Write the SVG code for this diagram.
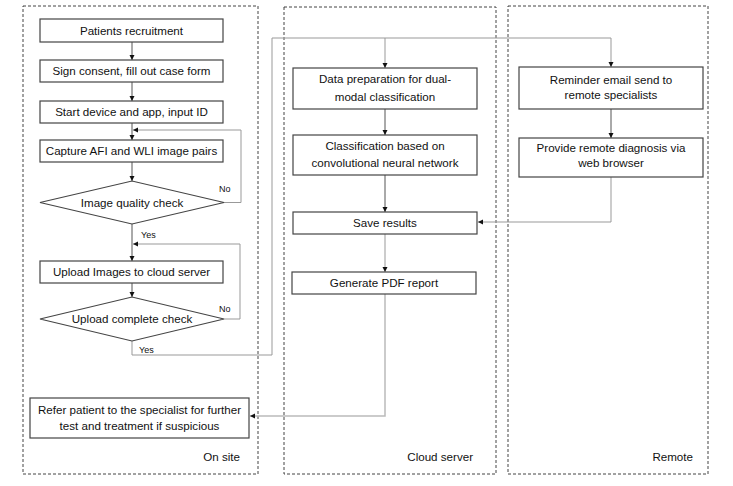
<svg xmlns="http://www.w3.org/2000/svg" width="733" height="486" viewBox="0 0 733 486">
<defs>
<style>
.zone{fill:none;stroke:#444;stroke-width:1;stroke-dasharray:3,2}
.box{fill:#fff;stroke:#444;stroke-width:1.2}
.t{font-family:"Liberation Sans",Arial,sans-serif;font-size:11.6px;fill:#111;text-anchor:middle}
.z{font-family:"Liberation Sans",Arial,sans-serif;font-size:11.6px;fill:#111;text-anchor:end}
.lb{font-family:"Liberation Sans",Arial,sans-serif;font-size:9px;fill:#111}
.c{fill:none;stroke:#555;stroke-width:1}
.cl{fill:none;stroke:#999;stroke-width:1}
.cx{fill:none;stroke:#bbb;stroke-width:1.5}
</style>
<marker id="ah" markerWidth="6" markerHeight="6" refX="5" refY="3" orient="auto" markerUnits="userSpaceOnUse">
<path d="M0,0.5 L5,3 L0,5.5 Z" fill="#111"/>
</marker>
</defs>
<rect width="733" height="486" fill="#fff"/>
<g id="zones">
<rect class="zone" x="23" y="6" width="235" height="468"/>
<rect class="zone" x="284" y="7" width="212" height="467"/>
<rect class="zone" x="508" y="6" width="200" height="468"/>
<text class="z" x="240" y="461">On site</text>
<text class="z" x="473" y="461">Cloud server</text>
<text class="z" x="693" y="461">Remote</text>
</g>
<g id="connectors">
<path class="c" d="M132,42 V60" marker-end="url(#ah)"/>
<path class="c" d="M132,82 V101" marker-end="url(#ah)"/>
<path class="c" d="M132,123 V140" marker-end="url(#ah)"/>
<path class="c" d="M132,162 V181" marker-end="url(#ah)"/>
<path class="cl" d="M224,202.5 H241 V130 H133" marker-end="url(#ah)"/>
<path class="c" d="M132,224 V261" marker-end="url(#ah)"/>
<path class="c" d="M132,283 V297" marker-end="url(#ah)"/>
<path class="cl" d="M224,319 H240 V244 H133" marker-end="url(#ah)"/>
<path class="cl" d="M132,341 V355 H272 V38 H611 V67" marker-end="url(#ah)"/>
<path class="cl" d="M385,38 V68" marker-end="url(#ah)"/>
<path class="c" d="M385,109 V135" marker-end="url(#ah)"/>
<path class="c" d="M385,175 V212" marker-end="url(#ah)"/>
<path class="cl" d="M385,234 V272" marker-end="url(#ah)"/>
<path class="cx" d="M385,294 V416 H250" marker-end="url(#ah)"/>
<path class="c" d="M611,109 V138" marker-end="url(#ah)"/>
<path class="cl" d="M611,177 V222 H478" marker-end="url(#ah)"/>
<text class="lb" x="219" y="192">No</text>
<text class="lb" x="141" y="238">Yes</text>
<text class="lb" x="219" y="312">No</text>
<text class="lb" x="139" y="353">Yes</text>
</g>
<g id="n1"><rect class="box" x="40" y="19" width="183" height="23"/><text class="t" x="131.5" y="34.5">Patients recruitment</text></g>
<g id="n2"><rect class="box" x="40" y="60" width="183" height="22"/><text class="t" x="131.5" y="75">Sign consent, fill out case form</text></g>
<g id="n3"><rect class="box" x="40" y="101" width="183" height="22"/><text class="t" x="131.5" y="116">Start device and app, input ID</text></g>
<g id="n4"><rect class="box" x="40" y="140" width="183" height="22"/><text class="t" x="131.5" y="155">Capture AFI and WLI image pairs</text></g>
<g id="n5"><polygon class="box" points="40,202.5 132,181 224,202.5 132,224"/><text class="t" x="132" y="206.5">Image quality check</text></g>
<g id="n6"><rect class="box" x="40" y="261" width="183" height="22"/><text class="t" x="131.5" y="276">Upload Images to cloud server</text></g>
<g id="n7"><polygon class="box" points="40,319 132,297 224,319 132,341"/><text class="t" x="132" y="323">Upload complete check</text></g>
<g id="n8"><rect class="box" x="30" y="398" width="219" height="40"/><text class="t" x="139.5" y="414">Refer patient to the specialist for further</text><text class="t" x="139.5" y="430">test and treatment if suspicious</text></g>
<g id="c1"><rect class="box" x="293" y="68" width="184" height="41"/><text class="t" x="385" y="83">Data preparation for dual-</text><text class="t" x="385" y="101">modal classification</text></g>
<g id="c2"><rect class="box" x="293" y="135" width="184" height="40"/><text class="t" x="385" y="150">Classification based on</text><text class="t" x="385" y="167">convolutional neural network</text></g>
<g id="c3"><rect class="box" x="293" y="212" width="184" height="22"/><text class="t" x="385" y="227">Save results</text></g>
<g id="c4"><rect class="box" x="292" y="272" width="184" height="22"/><text class="t" x="384" y="287">Generate PDF report</text></g>
<g id="r1"><rect class="box" x="519" y="67" width="184" height="42"/><text class="t" x="611" y="84">Reminder email send to</text><text class="t" x="611" y="99">remote specialists</text></g>
<g id="r2"><rect class="box" x="519" y="138" width="184" height="39"/><text class="t" x="611" y="152">Provide remote diagnosis via</text><text class="t" x="611" y="167">web browser</text></g>
</svg>
